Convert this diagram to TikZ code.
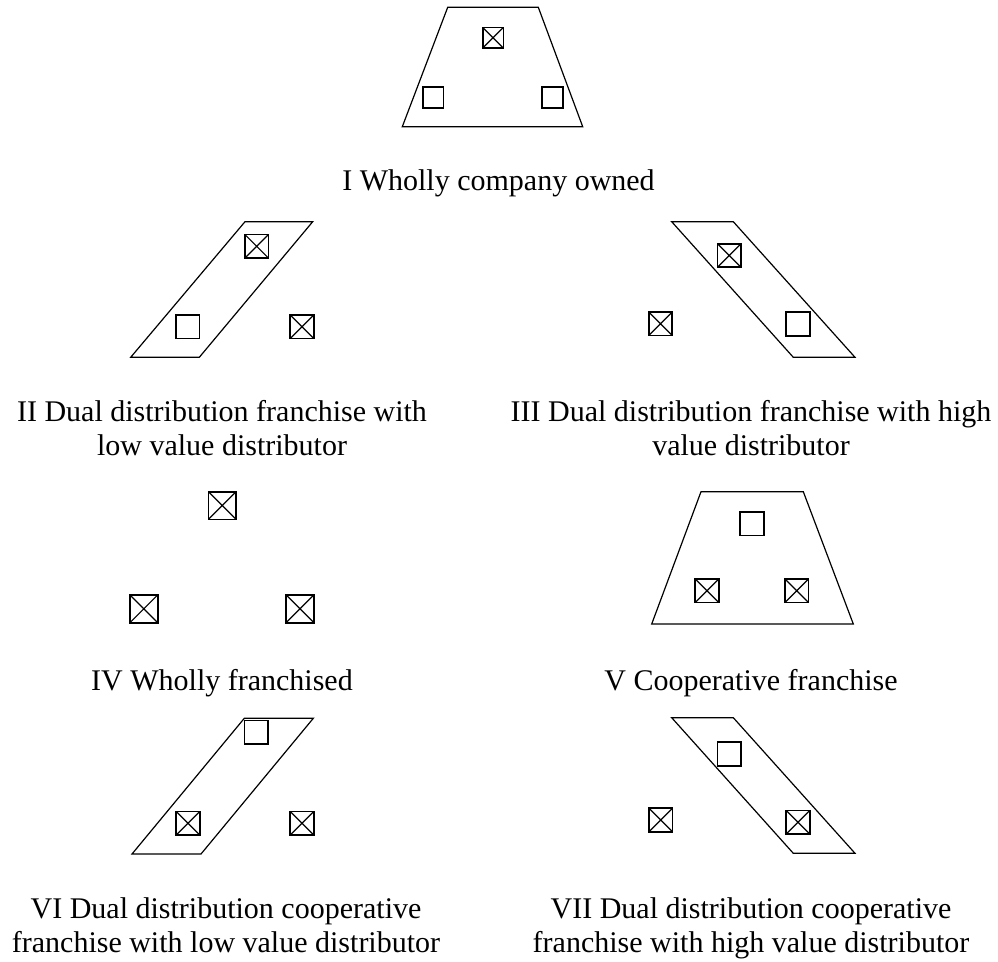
\documentclass[tikz,border=0pt]{standalone}
\usepackage{fontspec}
\setmainfont{Liberation Serif}
\begin{document}
\begin{tikzpicture}[x=1pt,y=-1pt,
  shapeline/.style={line width=1.2pt, line join=miter},
  plainbox/.style={draw, line width=1.7pt, inner sep=0pt, minimum size=#1},
  plainbox/.default=23.5pt,
  crossbox/.style={plainbox=#1, path picture={
     \draw[line width=1.2pt] (path picture bounding box.north west) -- (path picture bounding box.south east)
       (path picture bounding box.north east) -- (path picture bounding box.south west);}},
  crossbox/.default=23.5pt,
  lbl/.style={font=\fontsize{30}{34}\selectfont, inner sep=0pt, anchor=base}
]
\useasboundingbox (0,0) rectangle (998,961);

% Panel I
\draw[shapeline] (447.7,7.3) -- (538.3,7.3) -- (582.7,126.7) -- (402.3,126.7) -- cycle;
\node[crossbox=20.7pt] (i1) at (493,37.7) {};
\node[plainbox=20.7pt] (i2) at (433,97.3) {};
\node[plainbox=20.7pt] (i3) at (552.5,97.3) {};
\node[lbl] (li) at (498.5,190) {I Wholly company owned};

% Panel II
\draw[shapeline] (245,221.7) -- (312.7,221.7) -- (199.3,357.3) -- (130.7,357.3) -- cycle;
\node[crossbox] (ii1) at (256.7,246.3) {};
\node[plainbox] (ii2) at (187.7,326.7) {};
\node[crossbox] (ii3) at (302,326.7) {};
\node[lbl] (liia) at (222,421) {II Dual distribution franchise with};
\node[lbl] (liib) at (222,455) {low value distributor};

% Panel III
\draw[shapeline] (671.7,221.7) -- (733.3,221.7) -- (855,357.3) -- (793.3,357.3) -- cycle;
\node[crossbox] (iii1) at (729.3,255.5) {};
\node[plainbox] (iii2) at (798,324) {};
\node[crossbox] (iii3) at (660.5,323.7) {};
\node[lbl] (liiia) at (751,421) {III Dual distribution franchise with high};
\node[lbl] (liiib) at (751,455) {value distributor};

% Panel IV
\node[crossbox=27.7pt] (iv1) at (222.2,505.5) {};
\node[crossbox=27.7pt] (iv2) at (143.8,608.8) {};
\node[crossbox=27.7pt] (iv3) at (300,608.8) {};
\node[lbl] (liv) at (222,690) {IV Wholly franchised};

% Panel V
\draw[shapeline] (701,491.7) -- (803.3,491.7) -- (853.3,624) -- (651.7,624) -- cycle;
\node[plainbox] (v1) at (752,523.7) {};
\node[crossbox] (v2) at (707,590.8) {};
\node[crossbox] (v3) at (796.7,590.8) {};
\node[lbl] (lv) at (751,690) {V Cooperative franchise};

% Panel VI
\draw[shapeline] (244.3,718.3) -- (313.3,718.3) -- (201,854) -- (132,854) -- cycle;
\node[plainbox] (vi1) at (256.3,732.2) {};
\node[crossbox] (vi2) at (188,823.3) {};
\node[crossbox] (vi3) at (302,823.3) {};
\node[lbl] (lvia) at (226,918) {VI Dual distribution cooperative};
\node[lbl] (lvib) at (226,952) {franchise with low value distributor};

% Panel VII
\draw[shapeline] (671.7,717.7) -- (733.3,717.7) -- (855,853.3) -- (793.3,853.3) -- cycle;
\node[plainbox] (vii1) at (729.3,754) {};
\node[crossbox] (vii2) at (660.8,820) {};
\node[crossbox] (vii3) at (798,822.3) {};
\node[lbl] (lviia) at (751,918) {VII Dual distribution cooperative};
\node[lbl] (lviib) at (751,952) {franchise with high value distributor};
\end{tikzpicture}
\end{document}
